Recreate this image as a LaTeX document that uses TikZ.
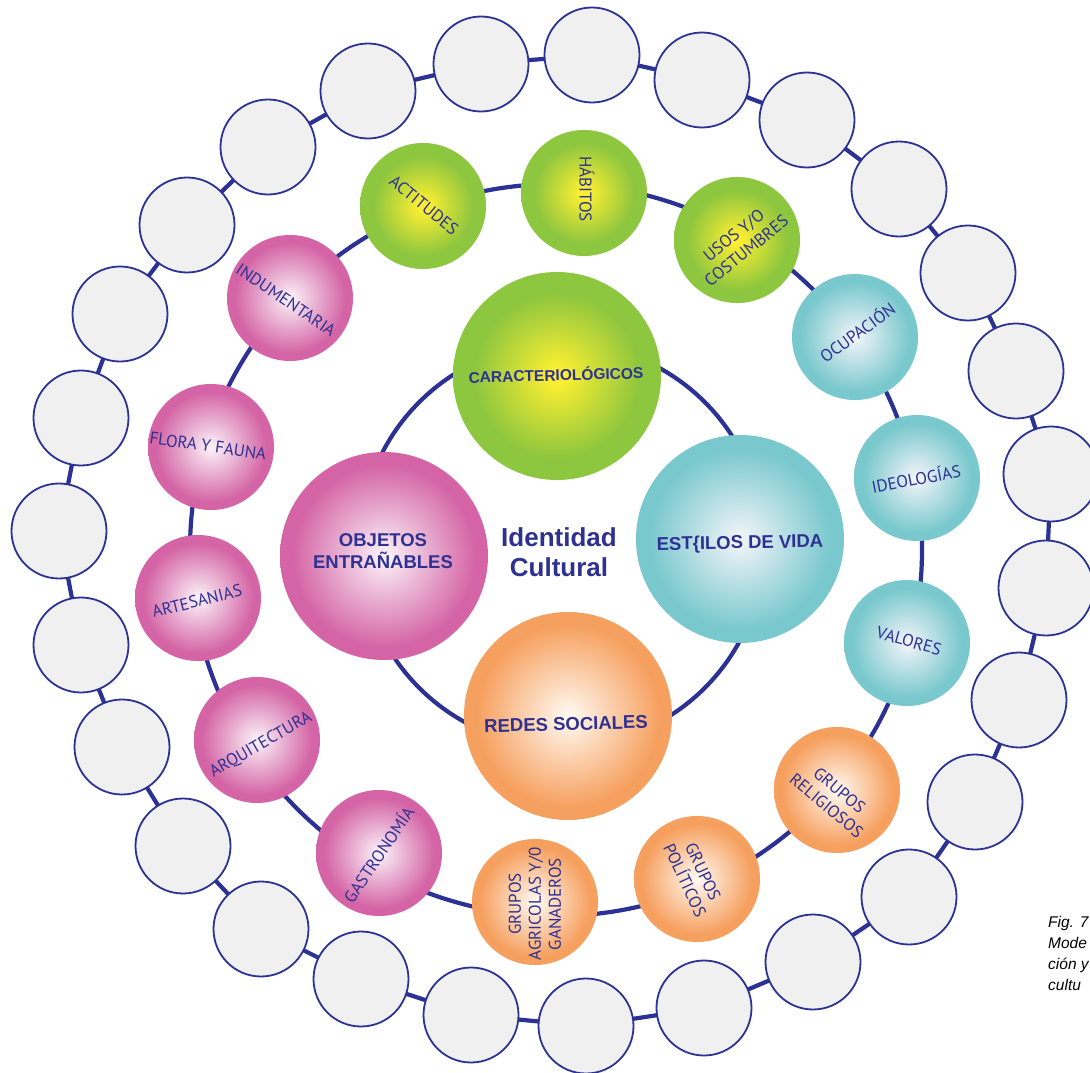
\documentclass[tikz,border=0pt]{standalone}
\usepackage{fontspec}
\setmainfont{Liberation Sans}
\newfontfamily\lblfont{PT Sans}
\usetikzlibrary{backgrounds}
\definecolor{navy}{RGB}{46,49,146}
\definecolor{ringblue}{RGB}{44,50,148}
\definecolor{greyfill}{RGB}{240,240,240}
\definecolor{gin}{RGB}{250,238,50}
\definecolor{gout}{RGB}{141,198,63}
\definecolor{pin}{RGB}{250,238,246}
\definecolor{pout}{RGB}{212,100,165}
\definecolor{tin}{RGB}{238,243,248}
\definecolor{tout}{RGB}{120,200,205}
\definecolor{oin}{RGB}{255,246,236}
\definecolor{oout}{RGB}{246,160,95}
\pgfdeclareradialshading{greenball}{\pgfpoint{0bp}{0bp}}{color(0bp)=(gin);color(2bp)=(gin);color(20bp)=(gout);color(50bp)=(gout)}
\pgfdeclareradialshading{pinkball}{\pgfpoint{0bp}{0bp}}{color(0bp)=(pin);color(1bp)=(pin);color(22bp)=(pout);color(50bp)=(pout)}
\pgfdeclareradialshading{tealball}{\pgfpoint{0bp}{0bp}}{color(0bp)=(tin);color(1bp)=(tin);color(22bp)=(tout);color(50bp)=(tout)}
\pgfdeclareradialshading{orangeball}{\pgfpoint{0bp}{0bp}}{color(0bp)=(oin);color(1bp)=(oin);color(22bp)=(oout);color(50bp)=(oout)}
\begin{document}
\begin{tikzpicture}[x=1pt,y=-1pt,
  ring/.style={draw=ringblue, line width=4.2pt},
  outerball/.style={circle, draw=ringblue, line width=1.8pt, fill=greyfill, minimum size=95pt, inner sep=0pt},
  ball/.style={circle, inner sep=0pt, minimum size=126pt},
  bigball/.style={circle, inner sep=0pt, minimum size=208pt},
  gsh/.style={shading=greenball},
  psh/.style={shading=pinkball},
  tsh/.style={shading=tealball},
  osh/.style={shading=orangeball},
  lbl/.style={text=navy, inner sep=0pt, align=center, font=\lblfont\fontsize{17}{20}\selectfont},
  biglbl/.style={text=navy, inner sep=0pt, align=center, font=\bfseries\fontsize{18.5}{22}\selectfont},
  caption/.style={text=black, inner sep=0pt, anchor=base west, font=\itshape\fontsize{15.5}{18}\selectfont}]
\useasboundingbox (0,0) rectangle (1090,1073);

% ring centres
\coordinate (midc) at (556,550);
\coordinate (innc) at (562,545);

% outer ring of empty circles
\foreach \i/\x/\y in {1/481/64, 2/592/55, 3/702/80, 4/807/120, 5/899/189, 6/968/273,
  7/1016/371, 8/1051/474, 9/1046/588, 10/1019/700, 11/975/802, 12/909/897,
  13/813/962, 14/704/1008, 15/586/1026, 16/471/1015, 17/361/979, 18/261/929,
  19/183/846, 20/122/747, 21/81/645, 22/59/531, 23/81/418, 24/120/314,
  25/187/225, 26/268/147, 27/368/91}
  \node[outerball] (O\i) at (\x,\y) {};

% middle ring
\node[ball,gsh] (act) at (423,206) {};
\node[ball,gsh] (hab) at (584,193) {};
\node[ball,gsh] (usos) at (737,240) {};
\node[ball,tsh] (ocup) at (855,337) {};
\node[ball,tsh] (ideo) at (917,478) {};
\node[ball,tsh] (val) at (907,643) {};
\node[ball,osh] (relig) at (837,790) {};
\node[ball,osh] (polit) at (697,879) {};
\node[ball,osh] (agric) at (535,902) {};
\node[ball,psh] (gastro) at (379,853) {};
\node[ball,psh] (arqui) at (257,740) {};
\node[ball,psh] (artes) at (198,598) {};
\node[ball,psh] (flora) at (211,447) {};
\node[ball,psh] (indum) at (290,298) {};

% inner ring
\node[bigball,gsh] (caract) at (557,376) {};
\node[bigball,tsh] (estilos) at (740,539) {};
\node[bigball,osh] (redes) at (568,716) {};
\node[bigball,psh] (objetos) at (384,556) {};

% connectors (behind the circles)
\begin{scope}[on background layer]
  \fill[white] (0,0) rectangle (1090,1073);
  \foreach \i in {1,...,27}{
    \pgfmathtruncatemacro\j{mod(\i,27)+1}
    \draw[ring] (O\i.center) -- (O\j.center);
  }
  \draw[ring] (midc) circle[radius=366];
  \draw[ring] (innc) circle[radius=202];
\end{scope}

% labels of the middle ring
\node[lbl, rotate=-39] (actT) at (424,205) {ACTITUDES};
\node[lbl, rotate=-90] (habT) at (587,189) {HÁBITOS};
\node[lbl, rotate=39] (usosT) at (740,243) {USOS Y/O\\COSTUMBRES};
\node[lbl, rotate=36] (ocupT) at (857,332) {OCUPACIÓN};
\node[lbl, rotate=11] (ideoT) at (916,478) {IDEOLOGÍAS};
\node[lbl, rotate=-16] (valT) at (909,641) {VALORES};
\node[lbl, rotate=-40] (religT) at (833,798) {GRUPOS\\RELIGIOSOS};
\node[lbl, rotate=-65] (politT) at (694,876) {GRUPOS\\POLÍTICOS};
\node[lbl, rotate=90] (agricT) at (535,904) {GRUPOS\\AGRICOLAS Y/0\\GANADEROS};
\node[lbl, rotate=56] (gastroT) at (378,854) {GASTRONOMÍA};
\node[lbl, rotate=30] (arquiT) at (261,745) {ARQUITECTURA};
\node[lbl, rotate=14] (artesT) at (197,601) {ARTESANIAS};
\node[lbl, rotate=-8] (floraT) at (208,446) {FLORA Y FAUNA};
\node[lbl, rotate=-34] (indumT) at (286,300) {INDUMENTARIA};

% labels of the inner ring
\node[biglbl, rotate=1.5, font=\bfseries\fontsize{15.5}{18}\selectfont] (caractT) at (556,374) {CARACTERIOLÓGICOS};
\node[biglbl, rotate=1] (estilosT) at (740,544) {EST\{ILOS DE VIDA};
\node[biglbl, rotate=1.5] (redesT) at (566,724) {REDES SOCIALES};
\node[biglbl] (objetosT) at (383,551) {OBJETOS\\ENTRAÑABLES};
\node[text=navy, inner sep=0pt, align=center, font=\bfseries\fontsize{26}{30.5}\selectfont] (centre) at (559,552) {Identidad\\Cultural};

% caption (cut by the page edge)
\node[caption] (cap1) at (1048,927) {Fig. 7};
\node[caption] (cap2) at (1048,948) {Mode};
\node[caption] (cap3) at (1048,969) {ción y};
\node[caption] (cap4) at (1048,990) {cultu};
\end{tikzpicture}
\end{document}
